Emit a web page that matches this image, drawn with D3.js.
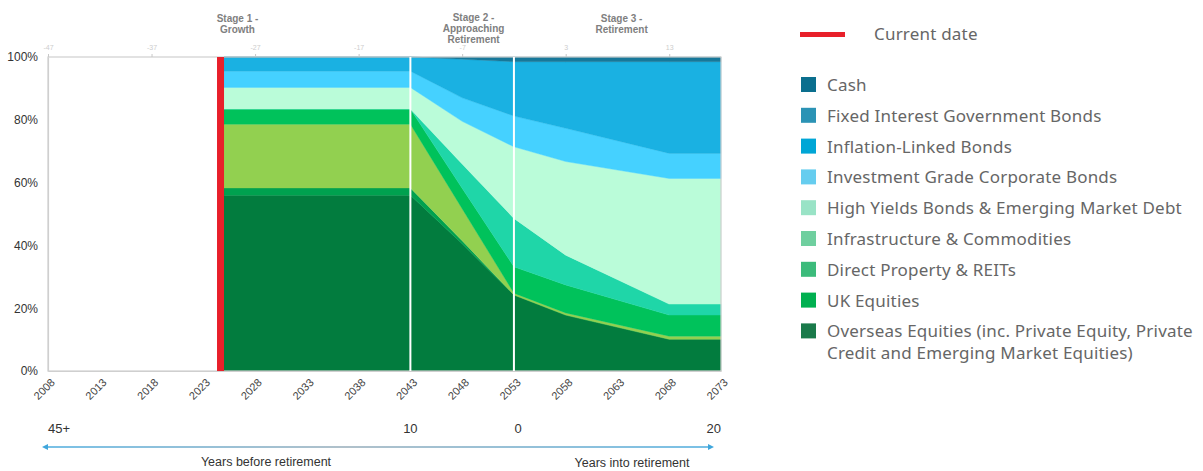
<!DOCTYPE html>
<html>
<head>
<meta charset="utf-8">
<script src="https://cdn.jsdelivr.net/npm/d3@7"></script>
<style>
  html, body { margin: 0; padding: 0; background: #fff; }
  svg { display: block; }
</style>
</head>
<body>
<svg id="chart" width="1203" height="471"></svg>
<script>
// Glidepath: asset allocation (% of pot) by calendar year
const years = [2025, 2043, 2048, 2053, 2058, 2068, 2073];

// Series in stacking order, bottom to top
const overseasEquities   = [56.0, 56.0, 40.5, 24.2, 17.8, 10.1, 10.1];
const directProperty     = [ 2.3,  2.3,  1.0,  0.0,  0.0,  0.0,  0.0];
const ukEquities         = [20.3, 20.3, 10.2,  0.6,  0.7,  1.0,  1.0];
const infrastructure     = [ 4.8,  4.8,  6.5,  8.4,  8.9,  6.7,  6.7];
const fixedInterestGilts = [ 0.0,  0.0,  7.7, 15.4,  9.5,  3.5,  3.5];
const highYield          = [ 6.9,  6.9, 13.6, 22.8, 29.8, 40.0, 40.0];
const investmentGrade    = [ 5.2,  5.2,  7.5,  9.8, 10.6,  8.0,  8.0];
const inflationLinked    = [ 4.5,  4.5, 12.3, 17.3, 21.2, 29.2, 29.2];
const cash               = [ 0.0,  0.0,  0.7,  1.5,  1.5,  1.5,  1.5];

const seriesKeys = ["overseas", "property", "uk", "infra", "gilts", "hy", "ig", "ilb", "cash"];
const seriesValues = [overseasEquities, directProperty, ukEquities, infrastructure,
                      fixedInterestGilts, highYield, investmentGrade, inflationLinked, cash];
const areaColors = ["#027c3e", "#00a14f", "#92d050", "#00c25b", "#1fd6a8",
                    "#bafcd9", "#45d1ff", "#1ab1e2", "#17789a"];

// Legend, in display order
const legendLabels = [
  "Cash",
  "Fixed Interest Government Bonds",
  "Inflation-Linked Bonds",
  "Investment Grade Corporate Bonds",
  "High Yields Bonds & Emerging Market Debt",
  "Infrastructure & Commodities",
  "Direct Property & REITs",
  "UK Equities",
  ["Overseas Equities (inc. Private Equity, Private", "Credit and Emerging Market Equities)"]
];
const legendColors = ["#0b6f8e", "#2b93b5", "#00a6d6", "#66cdef", "#99e3c6",
                      "#6fcf9f", "#3cbb7b", "#00b050", "#1a7a4a"];

// Axis ticks
const bottomTicks = d3.range(2008, 2074, 5);
const topTicks = [2008, 2018, 2028, 2038, 2048, 2058, 2068];
const topTickLabels = ["-47", "-37", "-27", "-17", "-7", "3", "13"];
const yTicks = [0, 20, 40, 60, 80, 100];

const currentYear = 2025;
const stageBoundaries = [2043, 2053];
const stages = [
  { lines: ["Stage 1 -", "Growth"], year: 2026.3 },
  { lines: ["Stage 2 -", "Approaching", "Retirement"], year: 2049.1 },
  { lines: ["Stage 3 -", "Retirement"], year: 2063.4 }
];
const yearsToGo = [
  { label: "45+", year: 2008, anchor: "start" },
  { label: "10", year: 2043, anchor: "middle" },
  { label: "0", year: 2053.4, anchor: "middle" },
  { label: "20", year: 2073, anchor: "end" }
];

const svg = d3.select("#chart");
const x = d3.scaleLinear().domain([2008, 2073]).range([48, 721]);
const y = d3.scaleLinear().domain([0, 100]).range([371, 57]);
const chartFont = "'Liberation Sans', Arial, sans-serif";

// Stacked areas
const table = years.map((yr, i) => {
  const row = { year: yr };
  seriesKeys.forEach((k, j) => { row[k] = seriesValues[j][i]; });
  return row;
});
const stacked = d3.stack().keys(seriesKeys)(table);
const area = d3.area()
  .x(d => x(d.data.year))
  .y0(d => y(d[0]))
  .y1(d => y(d[1]));

svg.append("g").selectAll("path")
  .data(stacked)
  .join("path")
  .attr("d", area)
  .attr("fill", (d, i) => areaColors[i])
  .attr("stroke", (d, i) => areaColors[i])
  .attr("stroke-width", 0.4);

// Frame
svg.append("rect")
  .attr("x", x(2008)).attr("y", y(100))
  .attr("width", x(2073) - x(2008)).attr("height", y(0) - y(100))
  .attr("fill", "none").attr("stroke", "#cfcfcf").attr("stroke-width", 1.2);

// Stage dividers
svg.append("g").selectAll("line")
  .data(stageBoundaries)
  .join("line")
  .attr("x1", d => x(d)).attr("x2", d => x(d))
  .attr("y1", y(100)).attr("y2", y(0))
  .attr("stroke", "#ffffff").attr("stroke-width", 2);

// Current date marker
svg.append("rect")
  .attr("x", x(currentYear) - 7).attr("y", y(100))
  .attr("width", 7).attr("height", y(0) - y(100))
  .attr("fill", "#e8202a");

// Y axis
const yAxis = svg.append("g")
  .attr("transform", `translate(${x(2008)},0)`)
  .call(d3.axisLeft(y).tickValues(yTicks).tickFormat(d => d + "%").tickSize(0).tickPadding(10));
yAxis.select(".domain").attr("stroke", "#cfcfcf").attr("stroke-width", 1.2);
yAxis.selectAll("text").attr("font-family", chartFont).attr("font-size", 12).attr("fill", "#333");

// Bottom axis with slanted year labels
const xAxis = svg.append("g")
  .attr("transform", `translate(0,${y(0)})`)
  .call(d3.axisBottom(x).tickValues(bottomTicks).tickFormat(d3.format("d")).tickSize(0));
xAxis.select(".domain").attr("stroke", "#cfcfcf").attr("stroke-width", 1.2);
xAxis.selectAll("text")
  .attr("font-family", chartFont).attr("font-size", 11).attr("fill", "#444")
  .attr("text-anchor", "end")
  .attr("dy", 0)
  .attr("transform", "translate(5,10) rotate(-45)");

// Top axis: years relative to retirement
const tAxis = svg.append("g")
  .attr("transform", `translate(0,${y(100)})`)
  .call(d3.axisTop(x).tickValues(topTicks).tickFormat((d, i) => topTickLabels[i]).tickSize(3).tickPadding(4));
tAxis.select(".domain").remove();
tAxis.selectAll("line").attr("stroke", "#c8c8c8");
tAxis.selectAll("text").attr("font-family", chartFont).attr("font-size", 7).attr("fill", "#cdcdcd");

// Stage headings
const stageG = svg.append("g")
  .attr("font-family", chartFont).attr("font-size", 10).attr("font-weight", "bold")
  .attr("fill", "#808080").attr("text-anchor", "middle");
stages.forEach(s => {
  const top = s.lines.length === 3 ? 21 : 22;
  s.lines.forEach((ln, i) => {
    stageG.append("text").attr("x", x(s.year)).attr("y", top + i * 11).text(ln);
  });
});

// Years-to-retirement scale beneath the chart
const below = svg.append("g").attr("font-family", chartFont).attr("fill", "#333");
below.selectAll("text.yrs")
  .data(yearsToGo)
  .join("text")
  .attr("class", "yrs")
  .attr("x", d => x(d.year)).attr("y", 433)
  .attr("text-anchor", d => d.anchor)
  .attr("font-size", 13)
  .text(d => d.label);

const defs = svg.append("defs");
const grad = defs.append("linearGradient").attr("id", "arrowGrad")
  .attr("x1", "0%").attr("x2", "100%").attr("y1", "0%").attr("y2", "0%");
grad.append("stop").attr("offset", "0%").attr("stop-color", "#3fa6dc");
grad.append("stop").attr("offset", "45%").attr("stop-color", "#8fa6b4");
grad.append("stop").attr("offset", "100%").attr("stop-color", "#3fa6dc");

const arrowY = 447;
svg.append("rect")
  .attr("x", x(2008) - 3).attr("y", arrowY - 0.7)
  .attr("width", x(2073) - x(2008) - 6).attr("height", 1.4)
  .attr("fill", "url(#arrowGrad)");
svg.append("path")
  .attr("d", `M${x(2008) - 6},${arrowY} l6,-3 l0,6 z`)
  .attr("fill", "#3fa6dc");
svg.append("path")
  .attr("d", `M${x(2073) - 7},${arrowY} l-6,-3 l0,6 z`)
  .attr("fill", "#3fa6dc");

below.append("text").attr("x", 266).attr("y", 466).attr("text-anchor", "middle")
  .attr("font-size", 12.5).text("Years before retirement");
below.append("text").attr("x", 632).attr("y", 467).attr("text-anchor", "middle")
  .attr("font-size", 12.5).text("Years into retirement");

// Legend
const legendFont = "'Noto Sans', 'Open Sans', sans-serif";
const lg = svg.append("g").attr("font-family", legendFont).attr("font-size", 17)
  .attr("letter-spacing", 0.2).attr("fill", "#666");
lg.append("rect").attr("x", 800).attr("y", 32).attr("width", 45).attr("height", 5).attr("fill", "#e8202a");
lg.append("text").attr("x", 874).attr("y", 40).text("Current date");

const rowH = 30.8;
legendLabels.forEach((lab, i) => {
  const cy = 85 + i * rowH;
  lg.append("rect").attr("x", 801).attr("y", cy - 8).attr("width", 15).attr("height", 15)
    .attr("fill", legendColors[i]);
  const lines = Array.isArray(lab) ? lab : [lab];
  lines.forEach((ln, k) => {
    lg.append("text").attr("x", 827).attr("y", cy + 6 + k * 22).text(ln);
  });
});
</script>
</body>
</html>
